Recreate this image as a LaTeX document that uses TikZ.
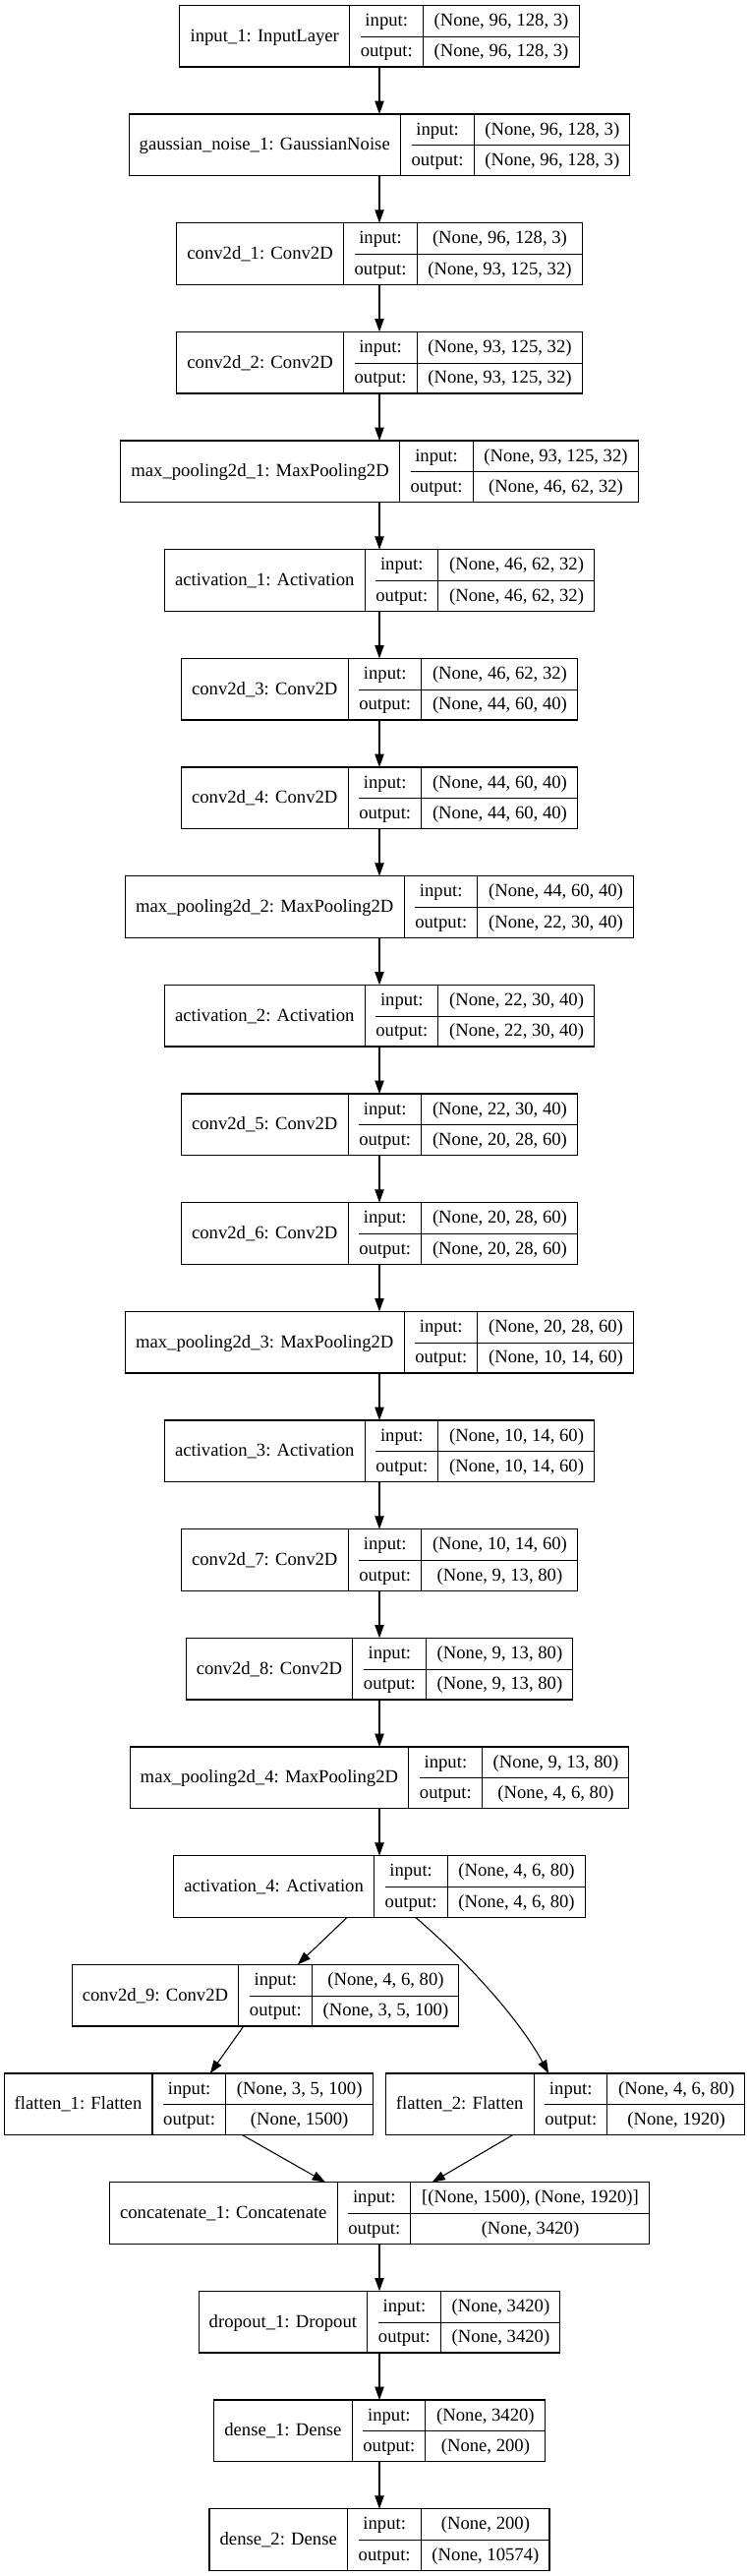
\documentclass[tikz,border=0pt]{standalone}
\usepackage{fontspec}
\setmainfont{Liberation Serif}
\usepackage{tikz}
\usetikzlibrary{arrows.meta}

\newcommand{\lfont}{\fontsize{14pt}{16.8pt}\selectfont}
\newcommand{\rowstrut}{\rule[-7.6pt]{0pt}{23.5pt}}
\setlength{\arrayrulewidth}{0.8pt}

% #1 node, #2 x, #3 rank, #4 layer, #5 input shape, #6 output shape
\newcommand{\layer}[6]{%
    \node[layer] (#1) at (#2, {-27.5-(#3-1)*83}) {%
        \begin{tabular}{@{\hspace{8pt}}c@{\hspace{8pt}}|@{\hspace{8pt}}c@{\hspace{8pt}}|@{\hspace{8pt}}c@{\hspace{8pt}}}
            \raisebox{-11.75pt}[0pt][0pt]{#4} & input: & #5\rowstrut\\ \cline{2-3}
            & output: & #6\rowstrut\\
        \end{tabular}};
}

\begin{document}
\begin{tikzpicture}[x=1pt, y=1pt]
    \tikzstyle{layer}=[draw, line width=0.8pt, inner sep=0pt, outer sep=0pt, font=\lfont]
    \tikzstyle{edge}=[-{Triangle[length=10pt,width=7pt]}, line width=0.8pt]

    \useasboundingbox (0,0) rectangle (571.5,-1964.25);

    \layer{in1}{289.5}{1}{input\_1: InputLayer}{(None, 96, 128, 3)}{(None, 96, 128, 3)}
    \layer{noise}{289.5}{2}{gaussian\_noise\_1: GaussianNoise}{(None, 96, 128, 3)}{(None, 96, 128, 3)}
    \layer{conv1}{289.5}{3}{conv2d\_1: Conv2D}{(None, 96, 128, 3)}{(None, 93, 125, 32)}
    \layer{conv2}{289.5}{4}{conv2d\_2: Conv2D}{(None, 93, 125, 32)}{(None, 93, 125, 32)}
    \layer{pool1}{289.5}{5}{max\_pooling2d\_1: MaxPooling2D}{(None, 93, 125, 32)}{(None, 46, 62, 32)}
    \layer{act1}{289.5}{6}{activation\_1: Activation}{(None, 46, 62, 32)}{(None, 46, 62, 32)}
    \layer{conv3}{289.5}{7}{conv2d\_3: Conv2D}{(None, 46, 62, 32)}{(None, 44, 60, 40)}
    \layer{conv4}{289.5}{8}{conv2d\_4: Conv2D}{(None, 44, 60, 40)}{(None, 44, 60, 40)}
    \layer{pool2}{289.5}{9}{max\_pooling2d\_2: MaxPooling2D}{(None, 44, 60, 40)}{(None, 22, 30, 40)}
    \layer{act2}{289.5}{10}{activation\_2: Activation}{(None, 22, 30, 40)}{(None, 22, 30, 40)}
    \layer{conv5}{289.5}{11}{conv2d\_5: Conv2D}{(None, 22, 30, 40)}{(None, 20, 28, 60)}
    \layer{conv6}{289.5}{12}{conv2d\_6: Conv2D}{(None, 20, 28, 60)}{(None, 20, 28, 60)}
    \layer{pool3}{289.5}{13}{max\_pooling2d\_3: MaxPooling2D}{(None, 20, 28, 60)}{(None, 10, 14, 60)}
    \layer{act3}{289.5}{14}{activation\_3: Activation}{(None, 10, 14, 60)}{(None, 10, 14, 60)}
    \layer{conv7}{289.5}{15}{conv2d\_7: Conv2D}{(None, 10, 14, 60)}{(None, 9, 13, 80)}
    \layer{conv8}{289.5}{16}{conv2d\_8: Conv2D}{(None, 9, 13, 80)}{(None, 9, 13, 80)}
    \layer{pool4}{289.5}{17}{max\_pooling2d\_4: MaxPooling2D}{(None, 9, 13, 80)}{(None, 4, 6, 80)}
    \layer{act4}{289.5}{18}{activation\_4: Activation}{(None, 4, 6, 80)}{(None, 4, 6, 80)}
    \layer{conv9}{202.5}{19}{conv2d\_9: Conv2D}{(None, 4, 6, 80)}{(None, 3, 5, 100)}
    \layer{flat1}{143.7}{20}{flatten\_1: Flatten}{(None, 3, 5, 100)}{(None, 1500)}
    \layer{flat2}{431.3}{20}{flatten\_2: Flatten}{(None, 4, 6, 80)}{(None, 1920)}
    \layer{concat}{289.5}{21}{concatenate\_1: Concatenate}{[(None, 1500), (None, 1920)]}{(None, 3420)}
    \layer{drop}{289.5}{22}{dropout\_1: Dropout}{(None, 3420)}{(None, 3420)}
    \layer{dense1}{289.5}{23}{dense\_1: Dense}{(None, 3420)}{(None, 200)}
    \layer{dense2}{289.5}{24}{dense\_2: Dense}{(None, 200)}{(None, 10574)}

    \foreach \a/\b in {in1/noise, noise/conv1, conv1/conv2, conv2/pool1, pool1/act1,
        act1/conv3, conv3/conv4, conv4/pool2, pool2/act2, act2/conv5, conv5/conv6,
        conv6/pool3, pool3/act3, act3/conv7, conv7/conv8, conv8/pool4, pool4/act4,
        act4/conv9, conv9/flat1, flat1/concat, flat2/concat, concat/drop,
        drop/dense1, dense1/dense2}
        \draw[edge] (\a) -- (\b);
    \draw[edge] (act4) .. controls (358,-1497) and (397,-1541) .. (flat2);
\end{tikzpicture}
\end{document}
